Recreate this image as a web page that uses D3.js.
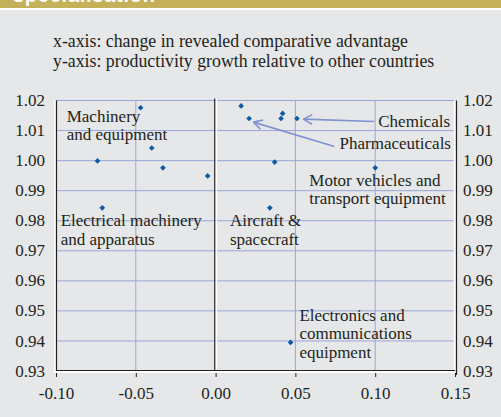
<!DOCTYPE html>
<html lang='en'>
<head>
  <meta charset='UTF-8'>
  <title>Specialisation</title>
  <style>
  body { margin: 0; background: #e6e7e8; }
  text { font-family: 'Liberation Serif', 'Times New Roman', serif; fill: #231f20; }
  .note { font-size: 17px; }
  .sub { font-size: 17.8px; }
  </style>
  <script src='https://d3js.org/d3.v7.min.js'></script>
</head>
<body>
  <script>

  // industry points: change in RCA (x) vs relative productivity growth (y)
  var rcaChange = [-0.047, -0.074, -0.040, -0.033, -0.005, -0.071,
                   0.016, 0.021, 0.041, 0.042, 0.051, 0.037, 0.100, 0.034, 0.047];
  var productivity = [1.0176, 0.9999, 1.0042, 0.9976, 0.9949, 0.9843,
                      1.0182, 1.0140, 1.0140, 1.0157, 1.0140, 0.9995, 0.9976, 0.9843, 0.9395];

  var xTicks = [-0.10, -0.05, 0.00, 0.05, 0.10, 0.15];
  var yTicks = [0.93, 0.94, 0.95, 0.96, 0.97, 0.98, 0.99, 1.00, 1.01, 1.02];

  var subtitle = ['x-axis: change in revealed comparative advantage',
                  'y-axis: productivity growth relative to other countries'];

  var width = 501, height = 417;
  var svg = d3.select('body').append('svg').attr('width', width).attr('height', height);

  var x = d3.scaleLinear().domain([-0.10, 0.15]).range([56, 455]);
  var y = d3.scaleLinear().domain([0.93, 1.02]).range([371, 100.5]);

  var fmt = function (d) { return d3.format('.2f')(d).replace('\u2212', '-'); };
  var gridColor = '#98a7da';

  // header strip
  svg.append('rect').attr('x', 0).attr('y', 0).attr('width', width).attr('height', 8).attr('fill', '#c4b15a');
  svg.append('rect').attr('x', 0).attr('y', 8).attr('width', width).attr('height', 2).attr('fill', '#ffffff');
  svg.append('text')
    .attr('x', 13).attr('y', 2)
    .attr('textLength', 142)
    .style('font-family', "'Liberation Sans', Arial, sans-serif")
    .style('font-weight', 'bold').style('font-size', '20px').style('fill', '#ffffff')
    .text('specialisation');

  svg.selectAll('.sub')
    .data(subtitle)
    .enter().append('text')
    .attr('class', 'sub')
    .attr('x', 53)
    .attr('y', function (d, i) { return 47 + i * 20; })
    .text(function (d) { return d; });

  // grid
  svg.selectAll('.hgrid')
    .data(yTicks.slice(1))
    .enter().append('line')
    .attr('x1', x(-0.10)).attr('x2', x(0.15))
    .attr('y1', function (d) { return y(d); }).attr('y2', function (d) { return y(d); })
    .attr('stroke', gridColor).attr('stroke-width', 1);

  svg.selectAll('.vgrid')
    .data([-0.05, 0.05, 0.10])
    .enter().append('line')
    .attr('x1', function (d) { return x(d); }).attr('x2', function (d) { return x(d); })
    .attr('y1', y(1.02)).attr('y2', y(0.93))
    .attr('stroke', gridColor).attr('stroke-width', 1);

  // frame: black lines with white highlights
  function seg(x1, y1, x2, y2, color, w) {
    svg.append('line').attr('x1', x1).attr('y1', y1).attr('x2', x2).attr('y2', y2)
      .attr('stroke', color).attr('stroke-width', w);
  }
  var plotTop = y(1.02), plotBot = y(0.93);
  seg(x(-0.10) - 1.2, plotTop, x(-0.10) - 1.2, plotBot + 1, '#ffffff', 1.5);
  seg(x(-0.10) + 0.5, plotTop, x(-0.10) + 0.5, plotBot, '#231f20', 1.2);
  seg(x(0) - 0.8, plotTop - 2, x(0) - 0.8, plotBot, '#231f20', 1.3);
  seg(x(0) + 0.8, plotTop - 2, x(0) + 0.8, plotBot, '#ffffff', 1.5);
  seg(x(0.15) - 0.5, plotTop, x(0.15) - 0.5, plotBot + 1, '#ffffff', 1.5);
  seg(x(0.15) + 1.5, plotTop, x(0.15) + 1.5, plotBot + 4, '#231f20', 1.2);
  seg(x(-0.10), plotBot - 0.5, x(0.15), plotBot - 0.5, '#231f20', 1);
  seg(x(-0.10) - 2, plotBot + 1, x(0.15), plotBot + 1, '#ffffff', 2);

  // x axis
  var xAxis = svg.append('g')
    .attr('transform', 'translate(0,' + (plotBot + 2) + ')')
    .call(d3.axisBottom(x).tickValues(xTicks).tickSize(4).tickPadding(10).tickFormat(fmt));
  xAxis.select('.domain').remove();
  xAxis.selectAll('.tick line').attr('stroke', '#231f20');
  xAxis.selectAll('.tick text').attr('fill', '#231f20')
    .style('font-family', "'Liberation Serif', serif").style('font-size', '17px');

  // y axes (left and right)
  var yLeft = svg.append('g')
    .attr('transform', 'translate(' + (x(-0.10) - 4) + ',0)')
    .call(d3.axisLeft(y).tickValues(yTicks).tickSize(0).tickPadding(7).tickFormat(fmt));
  yLeft.select('.domain').remove();
  yLeft.selectAll('.tick text').attr('fill', '#231f20').attr('dy', '0.3em')
    .style('font-family', "'Liberation Serif', serif").style('font-size', '17px');

  var yRight = svg.append('g')
    .attr('transform', 'translate(' + (x(0.15) + 1) + ',0)')
    .call(d3.axisRight(y).tickValues(yTicks).tickSize(0).tickPadding(7).tickFormat(fmt));
  yRight.select('.domain').remove();
  yRight.selectAll('.tick text').attr('fill', '#231f20').attr('dy', '0.3em')
    .style('font-family', "'Liberation Serif', serif").style('font-size', '17px');

  // arrows
  var arrowColor = '#7f93d0';
  var arrows = [
    { from: [0.0993, 1.0130], to: [0.0550, 1.0138] },
    { from: [0.0744, 1.0047], to: [0.0237, 1.0128] }
  ];
  arrows.forEach(function (a) {
    var x1 = x(a.from[0]), y1 = y(a.from[1]), x2 = x(a.to[0]), y2 = y(a.to[1]);
    seg(x1, y1, x2, y2, arrowColor, 1.6);
    var ang = Math.atan2(y1 - y2, x1 - x2);
    [-0.5, 0.5].forEach(function (s) {
      seg(x2, y2, x2 + 10 * Math.cos(ang + s), y2 + 10 * Math.sin(ang + s), arrowColor, 1.6);
    });
  });

  // labels
  var labels = [
    { lines: ['Machinery', 'and equipment'], at: [-0.0933, 1.0130], anchor: 'start' },
    { lines: ['Electrical machinery', 'and apparatus'], at: [-0.0971, 0.9781], anchor: 'start' },
    { lines: ['Aircraft &', 'spacecraft'], at: [0.0090, 0.9781], anchor: 'start' },
    { lines: ['Chemicals'], at: [0.1469, 1.0111], anchor: 'end' },
    { lines: ['Pharmaceuticals'], at: [0.1475, 1.0038], anchor: 'end' },
    { lines: ['Motor vehicles and', 'transport equipment'], at: [0.0587, 0.9916], anchor: 'start' },
    { lines: ['Electronics and', 'communications', 'equipment'], at: [0.0525, 0.9468], anchor: 'start' }
  ];
  labels.forEach(function (l) {
    var t = svg.append('text').attr('class', 'note')
      .attr('text-anchor', l.anchor)
      .attr('x', x(l.at[0])).attr('y', y(l.at[1]));
    t.selectAll('tspan').data(l.lines).enter().append('tspan')
      .attr('x', x(l.at[0]))
      .attr('dy', function (d, i) { return i === 0 ? 0 : 18.5; })
      .text(function (d) { return d; });
  });

  // points
  var points = rcaChange.map(function (v, i) { return [v, productivity[i]]; });
  svg.selectAll('.dot')
    .data(points)
    .enter().append('path')
    .attr('d', d3.symbol(d3.symbolSquare, 16))
    .attr('transform', function (d) { return 'translate(' + x(d[0]) + ',' + y(d[1]) + ') rotate(45)'; })
    .attr('fill', '#0f58a6');
  </script>
</body>
</html>
